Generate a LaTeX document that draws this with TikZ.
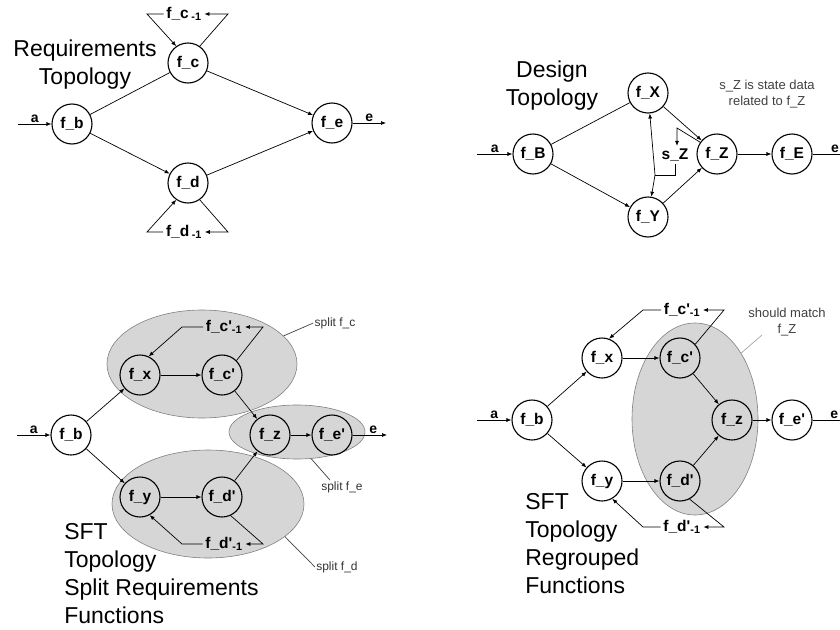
\documentclass[tikz,border=0pt]{standalone}
\usepackage{fontspec}
\setmainfont{Liberation Sans}
\usetikzlibrary{arrows.meta,shapes.geometric}

\definecolor{grpfill}{gray}{0.84}
\definecolor{grpline}{gray}{0.5}

\newcommand{\pr}{\textquotesingle}

\tikzset{
  fn/.style={circle, draw, line width=1.1pt, minimum size=40pt, inner sep=0pt,
    font=\fontsize{15.5}{15.5}\selectfont\bfseries},
  lp/.style={inner sep=2.5pt, font=\fontsize{15.5}{15.5}\selectfont\bfseries},
  io/.style={inner sep=1.5pt, font=\fontsize{14}{14}\selectfont\bfseries},
  grp/.style={ellipse, draw=grpline, fill=grpfill, line width=0.6pt, inner sep=0pt},
  ttl/.style={inner sep=0pt, font=\fontsize{23}{28}\selectfont},
  nt/.style={inner sep=1pt, align=center, text=black!75, font=\fontsize{13}{16}\selectfont},
  sp/.style={inner sep=1pt, text=black!80, font=\fontsize{12}{14}\selectfont},
}

\begin{document}
\begin{tikzpicture}[x=1pt, y=-1pt, >={Latex[length=5pt,width=4pt]}, line width=0.7pt]
\useasboundingbox (0,0) rectangle (840,629);

% ---- requirements topology
\node[ttl, align=center, anchor=north] (tReq) at (85,39) {Requirements\\Topology};
\node[fn] (fb1) at (72,124) {f\_b};
\node[fn] (fc1) at (188,63) {f\_c};
\node[fn] (fd1) at (188,183) {f\_d};
\node[fn] (fe1) at (332,123) {f\_e};
\node[lp] (lc1) at (184,14) {f\_c\,\textsubscript{-1}};
\node[lp] (ld1) at (184,232) {f\_d\,\textsubscript{-1}};
\coordinate (a1) at (18,124);
\coordinate (e1) at (386,123);
\coordinate (c1r) at (228,14);
\coordinate (c1l) at (147,14);
\coordinate (d1r) at (228,232);
\coordinate (d1l) at (147,232);

\draw[->] (a1) -- node[io, above] {a} (fb1);
\draw (fb1) -- (fc1);
\draw[->] (fb1) -- (fd1);
\draw[->] (fc1) -- (fe1);
\draw[->] (fd1) -- (fe1);
\draw[->] (fe1) -- node[io, above] {e} (e1);
\draw[->] (fc1.55) -- (c1r) -- (lc1);
\draw[->] (lc1) -- (c1l) -- (fc1.125);
\draw[->] (fd1.-55) -- (d1r) -- (ld1);
\draw[->] (ld1) -- (d1l) -- (fd1.-125);

% ---- design topology
\node[ttl, align=center, anchor=north] (tDes) at (552,60) {Design\\Topology};
\node[nt] (nState) at (767,94) {s\_Z is state data\\related to f\_Z};
\node[fn] (fB) at (533,154) {f\_B};
\node[fn] (fX) at (648,93) {f\_X};
\node[fn] (fY) at (648,217) {f\_Y};
\node[fn] (fZ) at (717,154) {f\_Z};
\node[fn] (fE) at (792,154) {f\_E};
\node[lp] (sZ) at (675,155) {s\_Z};
\coordinate (a2) at (477,154);
\coordinate (e2) at (850,154);
\coordinate (sj) at (655,175);
\coordinate (st) at (677,128);

\draw[->] (a2) -- node[io, above] {a} (fB);
\draw (fB) -- (fX);
\draw[->] (fB) -- (fY);
\draw[->] (fX) -- (fZ);
\draw[->] (fY) -- (fZ);
\draw[->] (fZ) -- (fE);
\draw[->] (fE) -- node[io, above, pos=0.6] {e} (e2);
\draw[->] (sj) -- (fX);
\draw[->] (sj) -- (fY);
\draw (sj) -| (sZ.south);
\draw[->] (fZ.145) -- (st) -- (st |- sZ.north);

% ---- SFT topology, split requirements functions
\node[grp, minimum width=190pt, minimum height=108pt] (gC) at (202,364) {};
\node[grp, minimum width=192pt, minimum height=108pt] (gD) at (208,504) {};
\node[grp, minimum width=136pt, minimum height=54pt] (gE) at (297,432) {};
\node[ttl, align=left, anchor=north west] (tSplit) at (64,523)
  {SFT\\Topology\\Split Requirements\\Functions};
\node[fn] (fb3) at (71,435) {f\_b};
\node[fn] (fx3) at (140,375) {f\_x};
\node[fn] (fy3) at (140,497) {f\_y};
\node[fn] (fc3) at (222,375) {f\_c\pr};
\node[fn] (fd3) at (222,497) {f\_d\pr};
\node[fn] (fz3) at (270,435) {f\_z};
\node[fn] (fe3) at (332,435) {f\_e\pr};
\node[lp] (lc3) at (224,327) {f\_c\pr\textsubscript{-1}};
\node[lp] (ld3) at (224,544) {f\_d\pr\textsubscript{-1}};
\node[sp] (sC) at (335,323) {split f\_c};
\node[sp] (sE) at (342,487) {split f\_e};
\node[sp] (sD) at (337,567) {split f\_d};
\coordinate (a3) at (17,435);
\coordinate (e3) at (387,435);
\coordinate (c3r) at (263,327);
\coordinate (c3l) at (182,327);
\coordinate (d3r) at (263,544);
\coordinate (d3l) at (182,544);

\draw[->] (a3) -- node[io, above] {a} (fb3);
\draw[->] (fb3) -- (fx3);
\draw[->] (fb3) -- (fy3);
\draw[->] (fx3) -- (fc3);
\draw[->] (fy3) -- (fd3);
\draw[->] (fc3) -- (fz3);
\draw[->] (fd3) -- (fz3);
\draw[->] (fz3) -- (fe3);
\draw[->] (fe3) -- node[io, above, pos=0.6] {e} (e3);
\draw[->] (fc3.45) -- (c3r) -- (lc3);
\draw[->] (lc3) -- (c3l) -- (fx3.65);
\draw[->] (fd3.-65) -- (d3r) -- (ld3);
\draw[->] (ld3) -- (d3l) -- (fy3.-62);
\draw[black!75] (gC.19) -- (sC.west);
\draw[black!75] (gE.-62) -- (sE.150);
\draw[black!75] (gD.-23) -- (sD.west);

% ---- SFT topology, regrouped functions
\node[grp, minimum width=126pt, minimum height=192pt] (gZ) at (695,419) {};
\node[ttl, align=left, anchor=north west] (tRegr) at (525,493)
  {SFT\\Topology\\Regrouped\\Functions};
\node[nt] (nMatch) at (787,322) {should match\\f\_Z};
\node[fn] (fb4) at (532,420) {f\_b};
\node[fn] (fx4) at (602,358) {f\_x};
\node[fn] (fy4) at (602,481) {f\_y};
\node[fn] (fc4) at (680,358) {f\_c\pr};
\node[fn] (fd4) at (680,481) {f\_d\pr};
\node[fn] (fz4) at (732,420) {f\_z};
\node[fn] (fe4) at (792,420) {f\_e\pr};
\node[lp] (lc4) at (682,310) {f\_c\pr\textsubscript{-1}};
\node[lp] (ld4) at (682,527) {f\_d\pr\textsubscript{-1}};
\coordinate (a4) at (477,420);
\coordinate (e4) at (852,420);
\coordinate (c4r) at (724,310);
\coordinate (c4l) at (643,310);
\coordinate (d4r) at (724,527);
\coordinate (d4l) at (643,527);
\coordinate (mTip) at (762,335);

\draw[->] (a4) -- node[io, above] {a} (fb4);
\draw[->] (fb4) -- (fx4);
\draw[->] (fb4) -- (fy4);
\draw[->] (fx4) -- (fc4);
\draw[->] (fy4) -- (fd4);
\draw[->] (fc4) -- (fz4);
\draw[->] (fd4) -- (fz4);
\draw[->] (fz4) -- (fe4);
\draw[->] (fe4) -- node[io, above, pos=0.55] {e} (e4);
\draw[->] (fc4.42) -- (c4r) -- (lc4);
\draw[->] (lc4) -- (c4l) -- (fx4.70);
\draw[->] (fd4.-62) -- (d4r) -- (ld4);
\draw[->] (ld4) -- (d4l) -- (fy4.-60);
\draw[black!35] (gZ.55) -- (mTip);
\end{tikzpicture}
\end{document}
